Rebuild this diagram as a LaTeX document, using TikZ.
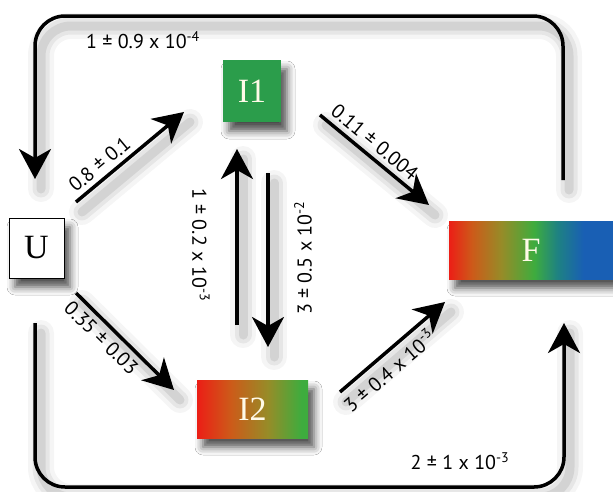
\documentclass[tikz,border=0pt]{standalone}
\usepackage{fontspec}
\setmainfont{Liberation Serif}
\newfontfamily\labf{PT Sans}
\usetikzlibrary{arrows.meta,shadows.blur}
\definecolor{gI}{RGB}{43,157,75}
\definecolor{cream}{RGB}{255,250,232}
\definecolor{sR}{RGB}{236,30,22}
\definecolor{sO}{RGB}{205,90,25}
\definecolor{sOl}{RGB}{150,140,40}
\definecolor{sG}{RGB}{62,172,62}
\definecolor{sT}{RGB}{30,130,130}
\definecolor{sB}{RGB}{25,95,180}
\pgfdeclarehorizontalshading{Fshade}{100bp}{color(0bp)=(sR); color(25bp)=(sR);
 color(32bp)=(sO); color(41bp)=(sOl); color(51bp)=(sG); color(58bp)=(sT); color(66bp)=(sB); color(100bp)=(sB)}
\pgfdeclarehorizontalshading{Ishade}{100bp}{color(0bp)=(sR); color(25bp)=(sR);
 color(40bp)=(sO); color(57bp)=(sOl); color(72bp)=(sG); color(100bp)=(sG)}
\tikzset{
  boxshadow/.style={blur shadow={shadow xshift=6pt, shadow yshift=-9pt, shadow blur radius=8pt, shadow opacity=70}},
  statebox/.style={rectangle, inner sep=0pt, font=\fontsize{34}{36}\selectfont, text=cream, boxshadow},
  lshadow/.style={
    preaction={draw=black, -, line cap=round, line width=26pt, opacity=0.04, transform canvas={shift={(6pt,-10pt)}}},
    preaction={draw=black, -, line cap=round, line width=17pt, opacity=0.06, transform canvas={shift={(6pt,-10pt)}}},
    preaction={draw=black, -, line cap=round, line width=9pt, opacity=0.08, transform canvas={shift={(6pt,-10pt)}}}},
  bigarrow/.style={line width=3.5pt, -{Stealth[length=30pt, width=32pt, inset=9pt]}, lshadow},
  lab/.style={font=\labf\fontsize{20}{22}\selectfont, inner sep=2pt}
}
\newcommand{\ex}[1]{\textsuperscript{#1}}
\begin{document}
\begin{tikzpicture}[x=1pt,y=-1pt]
\useasboundingbox (0,0) rectangle (613,491);
\fill[white] (0,0) rectangle (613,491);

\coordinate (a1s) at (76,202); \coordinate (a1e) at (184,112);
\coordinate (a2s) at (320,115); \coordinate (a2e) at (429,205);
\coordinate (a3s) at (76,293); \coordinate (a3e) at (174,390);
\coordinate (a4s) at (340,392); \coordinate (a4e) at (445,302);
\coordinate (a5s) at (237,325); \coordinate (a5e) at (237,149);
\coordinate (a6s) at (268,173); \coordinate (a6e) at (268,347);
\coordinate (tR) at (563,180); \coordinate (tL) at (35,179);
\coordinate (bL) at (35,323); \coordinate (bR) at (564,323);

% nodes
\node[statebox, draw=black, line width=1pt, fill=white, text=black, minimum width=55pt, minimum height=60pt] (U) at (36.5,248) {U};
\node[statebox, fill=gI, minimum width=58pt, minimum height=62pt] (I1) at (252,91) {I1};
\node[statebox, shading=Ishade, minimum width=111pt, minimum height=58pt] (I2) at (252.5,409) {I2};
\node[statebox, shading=Fshade, minimum width=164pt, minimum height=58pt] (F) at (531,250) {F};

\draw[bigarrow, rounded corners=30pt] (tR) -- (563,16) -- (35,16) -- (tL);
\draw[bigarrow, rounded corners=30pt] (bL) -- (35,487) -- (564,487) -- (bR);

\draw[bigarrow] (a1s) -- (a1e) node[lab, pos=0.3, sloped, above=3pt] (l1) {0.8 ± 0.1};
\draw[bigarrow] (a2s) -- (a2e) node[lab, pos=0.42, sloped, above=3pt] (l2) {0.11 ± 0.004};
\draw[bigarrow] (a3s) -- (a3e) node[lab, pos=0.36, sloped, below=3pt] (l3) {0.35 ± 0.03};
\draw[bigarrow] (a4s) -- (a4e) node[lab, pos=0.37, sloped, below=3pt] (l4) {3 ± 0.4 x 10\ex{-3}};
\draw[bigarrow] (a5s) -- (a5e);
\draw[bigarrow] (a6s) -- (a6e);

% labels
\node[lab, rotate=-90] (l5) at (201,245) {1 ± 0.2 x 10\ex{-3}};
\node[lab, rotate=90] (l6) at (303,258) {3 ± 0.5 x 10\ex{-2}};
\node[lab] (l7) at (143,40) {1 ± 0.9 x 10\ex{-4}};
\node[lab] (l8) at (460,461) {2 ± 1 x 10\ex{-3}};
\end{tikzpicture}
\end{document}
